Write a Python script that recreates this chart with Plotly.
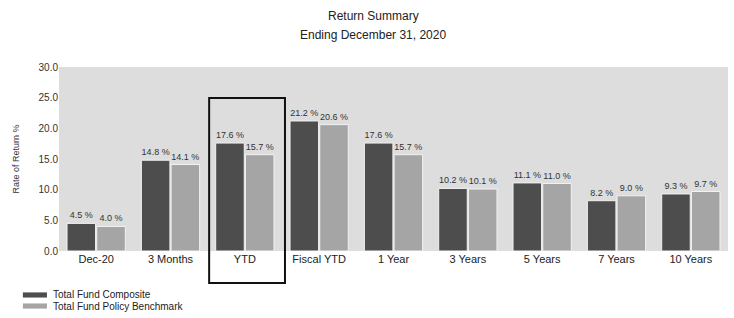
import plotly.graph_objects as go

categories = ["Dec-20", "3 Months", "YTD", "Fiscal YTD", "1 Year", "3 Years", "5 Years", "7 Years", "10 Years"]
composite = [4.5, 14.8, 17.6, 21.2, 17.6, 10.2, 11.1, 8.2, 9.3]
benchmark = [4.0, 14.1, 15.7, 20.6, 15.7, 10.1, 11.0, 9.0, 9.7]
y_ticks = [0, 5, 10, 15, 20, 25, 30]
series_names = ["Total Fund Composite", "Total Fund Policy Benchmark"]
series_colors = ["#4d4d4d", "#a5a5a5"]
title_lines = ["Return Summary", "Ending December 31, 2020"]
highlight = "YTD"

FONT = "Liberation Sans, Arial, sans-serif"

fig = go.Figure()
for name, vals, col in zip(series_names, [composite, benchmark], series_colors):
    fig.add_trace(go.Bar(
        name=name, x=categories, y=vals,
        marker=dict(color=col, line=dict(color="#f2f2f2", width=1)),
        text=[f"{v:.1f} %" for v in vals], textposition="outside",
        textfont=dict(size=9, color="#333333", family=FONT), cliponaxis=False,
        showlegend=False,
    ))

hi = categories.index(highlight)
fig.add_shape(type="rect", xref="x", yref="paper",
              x0=hi - 0.48, x1=hi + 0.54, y0=-0.174, y1=0.832,
              line=dict(color="#111111", width=2), fillcolor="rgba(0,0,0,0)")

# manual legend (compact, like the reference)
leg_y = [-0.239, -0.299]
for name, col, yy in zip(series_names, series_colors, leg_y):
    fig.add_shape(type="rect", xref="paper", yref="paper",
                  x0=-0.054, x1=-0.018, y0=yy - 0.014, y1=yy + 0.014,
                  fillcolor=col, line=dict(width=0))
    fig.add_annotation(text=name, xref="paper", yref="paper",
                       x=-0.012, y=yy, xanchor="left", yanchor="middle",
                       showarrow=False,
                       font=dict(size=10, family=FONT, color="#222222"))

for txt, yy in zip(title_lines, [1.277, 1.174]):
    fig.add_annotation(text=txt, xref="paper", yref="paper",
                       x=0.47, y=yy, xanchor="center", yanchor="middle",
                       showarrow=False,
                       font=dict(size=12, family=FONT, color="#222222"))

fig.update_layout(
    width=734, height=318,
    margin=dict(l=59, r=6, t=67, b=67, autoexpand=False),
    paper_bgcolor="white", plot_bgcolor="#dddddd",
    barmode="group", bargap=0.2, bargroupgap=0.04,
    font=dict(family=FONT, color="#222222", size=10),
    showlegend=False,
    xaxis=dict(range=[-0.5, len(categories) - 0.5], showgrid=False,
               tickfont=dict(size=11, family=FONT, color="#222222"),
               ticks="", showline=False),
    yaxis=dict(range=[0, 30], tickvals=y_ticks,
               ticktext=[f"{v:.1f}" for v in y_ticks],
               showgrid=False, zeroline=False, showline=False,
               tickfont=dict(size=10, family=FONT, color="#333333"),
               title=dict(text="Rate of Return %", standoff=17,
                          font=dict(size=9, family=FONT, color="#333333"))),
)

fig.write_html("out.html", config={"displayModeBar": False},
               post_script="document.body.style.margin='0';document.body.style.overflow='hidden';")
